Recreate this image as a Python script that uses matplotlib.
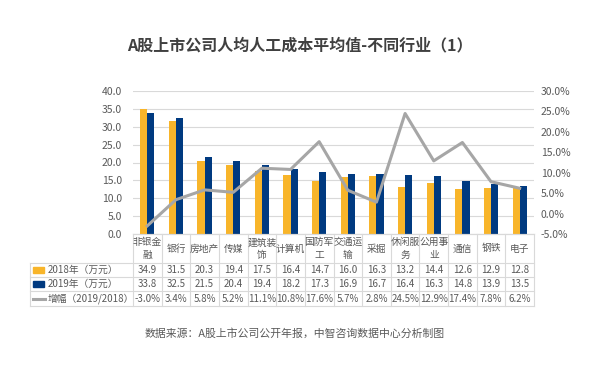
import numpy as np
import matplotlib
matplotlib.use('Agg')
import matplotlib.pyplot as plt
from matplotlib.transforms import blended_transform_factory
from matplotlib.patches import Rectangle
from matplotlib.lines import Line2D

plt.rcParams['font.family'] = ['Noto Sans CJK SC', 'DejaVu Sans']

# data
industries = ['非银金\n融', '银行', '房地产', '传媒', '建筑装\n饰', '计算机', '国防军\n工',
              '交通运\n输', '采掘', '休闲服\n务', '公用事\n业', '通信', '钢铁', '电子']
cost_2018 = [34.9, 31.5, 20.3, 19.4, 17.5, 16.4, 14.7, 16.0, 16.3, 13.2, 14.4, 12.6, 12.9, 12.8]
cost_2019 = [33.8, 32.5, 21.5, 20.4, 19.4, 18.2, 17.3, 16.9, 16.7, 16.4, 16.3, 14.8, 13.9, 13.5]
growth = [-3.0, 3.4, 5.8, 5.2, 11.1, 10.8, 17.6, 5.7, 2.8, 24.5, 12.9, 17.4, 7.8, 6.2]
row_names = ['2018年（万元）', '2019年（万元）', '增幅（2019/2018）']

YELLOW = '#F8B52A'
NAVY = '#003A80'
GREY = '#A6A6A6'
TXT = '#595959'
GRID = '#D9D9D9'

W, H = 600, 366
fig = plt.figure(figsize=(W / 100, H / 100), dpi=100)

def fy(px):
    return 1 - px / H

def fx(px):
    return px / W

ax = fig.add_axes([fx(133), fy(234), fx(534) - fx(133), fy(91) - fy(234)])
x = np.arange(len(industries))
bw = 0.25
ax.bar(x - bw / 2, cost_2018, bw, color=YELLOW, zorder=2)
ax.bar(x + bw / 2, cost_2019, bw, color=NAVY, zorder=2)
ax.set_xlim(-0.5, len(industries) - 0.5)
ax.set_ylim(0, 40)
ax.set_yticks(np.arange(0, 41, 5))
ax.set_yticklabels([f'{v:.1f}' for v in np.arange(0, 41, 5)])
ax.yaxis.grid(True, color=GRID, lw=0.8, zorder=0)
ax.set_xticks([])
for s in ['top', 'left', 'right']:
    ax.spines[s].set_visible(False)
ax.spines['bottom'].set_color(GRID)
ax.tick_params(axis='y', length=0, labelsize=7.5, labelcolor=TXT, pad=8)

ax2 = ax.twinx()
ax2.plot(x, growth, color=GREY, lw=2.2, zorder=3)
ax2.set_ylim(-5, 30)
ax2.set_yticks(np.arange(-5, 31, 5))
ax2.set_yticklabels([f'{v:.1f}%' for v in np.arange(-5, 31, 5)])
for s in ['top', 'left', 'right', 'bottom']:
    ax2.spines[s].set_visible(False)
ax2.tick_params(axis='y', length=0, labelsize=7.5, labelcolor=TXT, pad=5)

# data table under the chart
tr = blended_transform_factory(ax.transData, fig.transFigure)
rows_px = [234, 263, 277, 291, 306]
n = len(industries)
line_kw = dict(color=GRID, lw=0.8, clip_on=False)

fig.add_artist(Line2D([fx(133), fx(534)], [fy(234), fy(234)], transform=fig.transFigure, **line_kw))
for yp in rows_px[1:]:
    fig.add_artist(Line2D([fx(30), fx(534)], [fy(yp), fy(yp)], transform=fig.transFigure, **line_kw))
for b in np.arange(-0.5, n, 1.0):
    fig.add_artist(Line2D([b, b], [fy(234), fy(306)], transform=tr, **line_kw))
fig.add_artist(Line2D([fx(30), fx(30)], [fy(263), fy(306)], transform=fig.transFigure, **line_kw))

cat_y = fy((234 + 263) / 2)
for i, name in enumerate(industries):
    fig.text(x[i], cat_y, name, transform=tr, ha='center', va='center',
             fontsize=7, color=TXT, linespacing=1.3)

row_vals = [[f'{v:.1f}' for v in cost_2018],
            [f'{v:.1f}' for v in cost_2019],
            [f'{v:.1f}%' for v in growth]]
for r in range(3):
    yc = fy((rows_px[r + 1] + rows_px[r + 2]) / 2)
    for i in range(n):
        fig.text(x[i], yc, row_vals[r][i], transform=tr, ha='center', va='center',
                 fontsize=7, color=TXT)
    fig.text(fx(48), yc, row_names[r], ha='left', va='center', fontsize=7, color=TXT)

# legend keys in the header column
for r, col in enumerate([YELLOW, NAVY]):
    yc = (rows_px[r + 1] + rows_px[r + 2]) / 2
    fig.add_artist(Rectangle((fx(33), fy(yc + 3)), fx(11), fy(yc - 3) - fy(yc + 3),
                             transform=fig.transFigure, color=col))
yc = (rows_px[3] + rows_px[4]) / 2
fig.add_artist(Line2D([fx(33), fx(45)], [fy(yc), fy(yc)], transform=fig.transFigure,
                      color=GREY, lw=2.2))

fig.text(0.5, fy(45), 'A股上市公司人均人工成本平均值-不同行业（1）', ha='center', va='center',
         fontsize=11.5, fontweight='bold', color='#404040')
fig.text(fx(145), fy(334), '数据来源：A股上市公司公开年报，中智咨询数据中心分析制图',
         ha='left', va='center', fontsize=7.8, color=TXT)

fig.savefig('out.png', dpi=100)
